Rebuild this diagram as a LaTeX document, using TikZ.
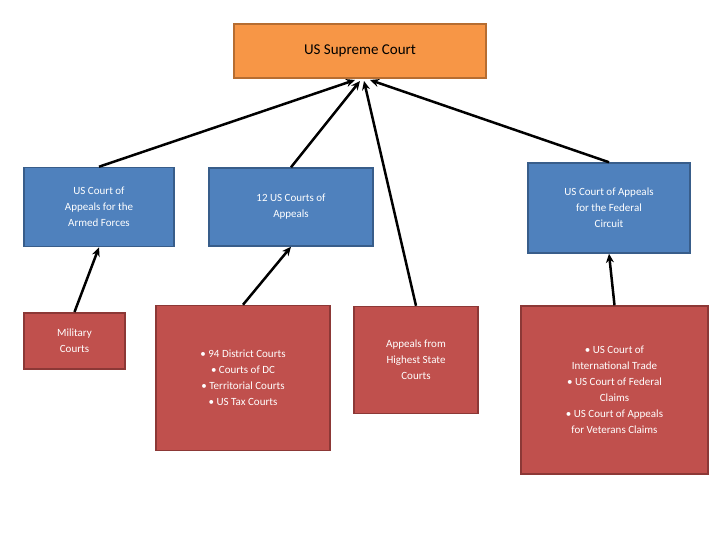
\documentclass[tikz,border=0pt]{standalone}
\usepackage{fontspec}
\setmainfont{Carlito}
\usetikzlibrary{arrows.meta}
\definecolor{orangefill}{HTML}{F79646}
\definecolor{orangeline}{HTML}{B66D31}
\definecolor{bluefill}{HTML}{4F81BD}
\definecolor{blueline}{HTML}{385D8A}
\definecolor{redfill}{HTML}{C0504D}
\definecolor{redline}{HTML}{8C3836}
\tikzset{
  court/.style={draw, line width=1.5pt, text=white, align=center, font=\fontsize{11}{16}\selectfont, inner sep=0pt},
  top/.style={court, fill=orangefill, draw=orangeline, text=black, font=\fontsize{15}{18}\selectfont},
  upper/.style={court, fill=bluefill, draw=blueline},
  lower/.style={court, fill=redfill, draw=redline},
  link/.style={-{Stealth[length=9pt,width=8pt]}, line width=2.5pt}
}
\begin{document}
\begin{tikzpicture}[x=1pt,y=-1pt]
\useasboundingbox (0,0) rectangle (720,540);

\node[top, minimum width=252pt, minimum height=54pt] (sup) at (360,51) {US Supreme Court};

\node[upper, minimum width=150pt, minimum height=79pt] (armed) at (99,207) {US Court of\\Appeals for the\\Armed Forces};
\node[upper, minimum width=164pt, minimum height=78pt] (circ) at (291,207) {12 US Courts of\\Appeals};
\node[upper, minimum width=162pt, minimum height=90pt] (fed) at (609,208) {US Court of Appeals\\for the Federal\\Circuit};

\node[lower, minimum width=101pt, minimum height=56pt, anchor=north] (mil) at (74.5,312) {\raisebox{0pt}{Military}\\Courts};
\node[lower, minimum width=174pt, minimum height=145pt] (dist) at (243,378) {• 94 District Courts\\• Courts of DC\\• Territorial Courts\\• US Tax Courts};
\node[lower, minimum width=124pt, minimum height=107pt] (state) at (416,360) {Appeals from\\Highest State\\Courts};
\node[lower, minimum width=187pt, minimum height=168pt] (spec) at (614.5,390) {• US Court of\\International Trade\\• US Court of Federal\\Claims\\• US Court of Appeals\\for Veterans Claims};

\coordinate (s1) at (355,80);
\coordinate (s2) at (360,81);
\coordinate (s3) at (364,81);
\coordinate (s4) at (370,80);

\draw[link] (armed.north) -- (s1);
\draw[link] (circ.north) -- (s2);
\draw[link] (state.north) -- (s3);
\draw[link] (fed.north) -- (s4);
\draw[link] (mil.north) -- (armed.south);
\draw[link] (dist.north) -- (circ.south);
\draw[link] (spec.north) -- (fed.south);

\end{tikzpicture}
\end{document}
